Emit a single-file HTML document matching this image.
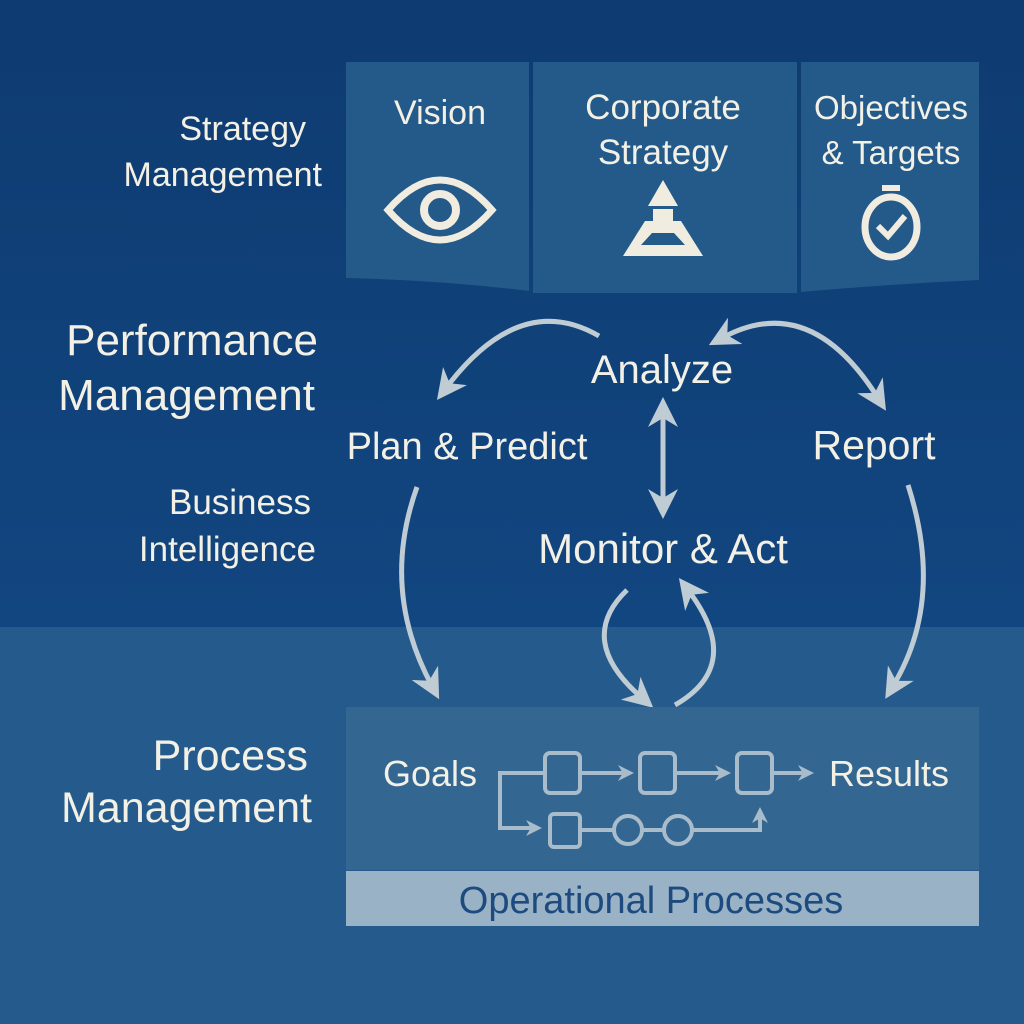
<!DOCTYPE html>
<html><head><style>body{margin:0;background:#0f3f77}svg{display:block}</style></head><body>
<svg width="1024" height="1024" viewBox="0 0 1024 1024" xmlns="http://www.w3.org/2000/svg" font-family="Liberation Sans, DejaVu Sans, sans-serif">
<defs>
<linearGradient id="bg" x1="0" y1="0" x2="0" y2="1"><stop offset="0" stop-color="#0e3b71"/><stop offset="1" stop-color="#124680"/></linearGradient>
<marker id="ah" viewBox="0 0 10 10" refX="5" refY="5" markerWidth="6" markerHeight="6" orient="auto-start-reverse"><path d="M0,0 L10,5 L0,10 L3,5 Z" fill="#c0ccd4"/></marker>
<marker id="as" viewBox="0 0 10 10" refX="5" refY="5" markerWidth="4" markerHeight="4" orient="auto-start-reverse"><path d="M0,0 L10,5 L0,10 L3,5 Z" fill="#a9bccb"/></marker>
</defs>
<rect width="1024" height="627" fill="url(#bg)"/>
<rect y="627" width="1024" height="397" fill="#255b8c"/>
<path d="M346,62 H529 V291 Q440,280 346,278 Z" fill="#245a8a"/>
<path d="M533,62 H797 V293 H533 Z" fill="#245a8a"/>
<path d="M801,62 H979 V280 Q890,284 801,292 Z" fill="#245a8a"/>
<g fill="#f3f0e6" text-anchor="middle">
<text x="440" y="124" font-size="34">Vision</text>
<text x="663" y="119" font-size="35">Corporate</text><text x="663" y="164" font-size="35">Strategy</text>
<text x="891" y="119" font-size="33">Objectives</text><text x="891" y="164" font-size="33">&amp; Targets</text>
</g>
<g fill="none" stroke="#f0ece0" stroke-width="7">
<path d="M388,210 Q440,150 492,210 Q440,270 388,210 Z"/>
<circle cx="440" cy="210" r="16" stroke-width="8"/>
<ellipse cx="891" cy="227" rx="26" ry="30"/>
</g>
<path d="M878,226 L888,236 L905,216" fill="none" stroke="#f0ece0" stroke-width="6"/>
<rect x="882" y="185" width="18" height="6" fill="#f0ece0"/>
<path d="M663,180 L678,206 H648 Z" fill="#f0ece0"/>
<rect x="653" y="209" width="20" height="12" fill="#f0ece0"/>
<path d="M645,221 H681 L703,256 H623 Z" fill="#f0ece0"/>
<path d="M652,233 H674 L685,245 H641 Z" fill="#245a8a"/>
<g fill="#f3f0e6" text-anchor="end">
<text x="306" y="140" font-size="34">Strategy</text>
<text x="322" y="186" font-size="34">Management</text>
<text x="318" y="355" font-size="44">Performance</text>
<text x="315" y="410" font-size="44">Management</text>
<text x="311" y="514" font-size="35">Business</text>
<text x="316" y="561" font-size="35">Intelligence</text>
<text x="308" y="770" font-size="43">Process</text>
<text x="312" y="822" font-size="43">Management</text>
</g>
<g fill="#f3f0e6" text-anchor="middle">
<text x="662" y="383" font-size="40">Analyze</text>
<text x="467" y="459" font-size="38">Plan &amp; Predict</text>
<text x="874" y="459" font-size="41">Report</text>
<text x="663" y="563" font-size="42">Monitor &amp; Act</text>
</g>
<g fill="none" stroke="#c0ccd4" stroke-width="5" stroke-linecap="butt">
<path d="M599,336 Q520,290 446,388" marker-end="url(#ah)"/>
<path d="M722,338 Q810,290 878,398" marker-start="url(#ah)" marker-end="url(#ah)"/>
<path d="M663,412 V504" marker-start="url(#ah)" marker-end="url(#ah)"/>
<path d="M417,487 Q380,590 432,686" marker-end="url(#ah)"/>
<path d="M908,485 Q945,600 893,686" marker-end="url(#ah)"/>
<path d="M627,590 Q575,640 642,698" marker-end="url(#ah)"/>
<path d="M675,705 Q745,665 688,590" marker-end="url(#ah)"/>
</g>
<rect x="346" y="707" width="633" height="163" fill="#336690"/>
<rect x="346" y="871" width="633" height="55" fill="#9ab2c6"/>
<text x="651" y="913" text-anchor="middle" font-size="38" fill="#1d4b80">Operational Processes</text>
<text x="430" y="786" text-anchor="middle" font-size="36" fill="#f3f0e6">Goals</text>
<text x="889" y="786" text-anchor="middle" font-size="36" fill="#f3f0e6">Results</text>
<g fill="none" stroke="#a9bccb" stroke-width="4">
<path d="M545,773 H500 V828 H534" marker-end="url(#as)"/>
<rect x="545" y="753" width="35" height="40" rx="5"/>
<rect x="640" y="753" width="35" height="40" rx="5"/>
<rect x="737" y="753" width="35" height="40" rx="5"/>
<path d="M580,773 H626" marker-end="url(#as)"/>
<path d="M675,773 H723" marker-end="url(#as)"/>
<path d="M772,773 H806" marker-end="url(#as)"/>
<rect x="550" y="814" width="30" height="33" rx="4"/>
<circle cx="628" cy="830" r="14"/>
<circle cx="678" cy="830" r="14"/>
<path d="M580,830 H614 M642,830 H664 M692,830 H760 V815" marker-end="url(#as)"/>
</g>
</svg>
</body></html>
